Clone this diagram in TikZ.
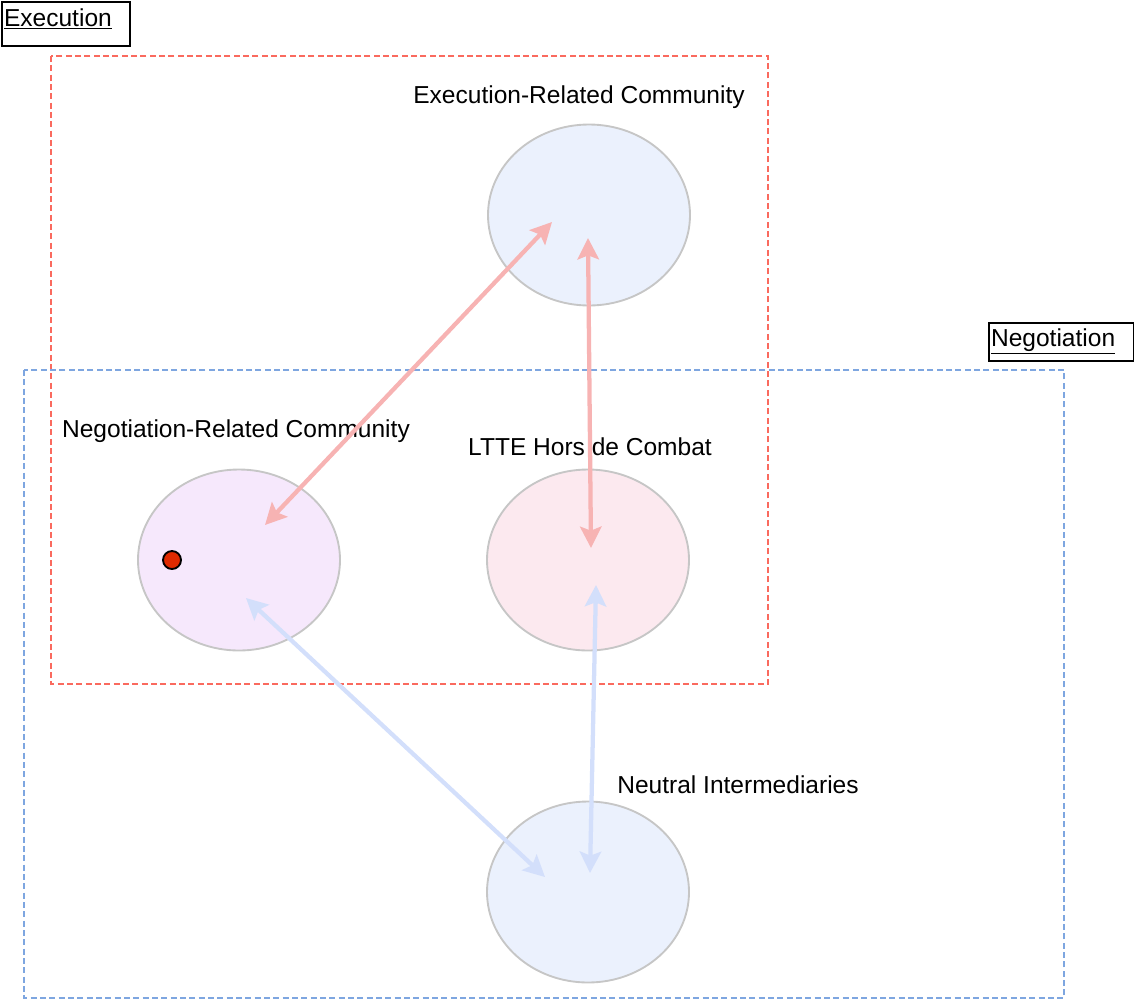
\documentclass[tikz,border=0pt]{standalone}
\usepackage{fontspec}
\setmainfont{Liberation Sans}
\usepackage{xcolor}
\usepackage{tikz}
\usetikzlibrary{shapes}
\usetikzlibrary{arrows.meta}
\definecolor{ringgray}{HTML}{C6C6C6}
\definecolor{execblue}{HTML}{EBF1FD}
\definecolor{negpurple}{HTML}{F6E8FC}
\definecolor{lttepink}{HTML}{FCE9EF}
\definecolor{regionred}{HTML}{FA6A5E}
\definecolor{regionblue}{HTML}{7EA6E0}
\definecolor{linkred}{HTML}{F7B3B3}
\definecolor{linkblue}{HTML}{D3DFFB}
\definecolor{dotred}{HTML}{E02A00}
\tikzset{
	community/.style={ellipse,draw=ringgray,line width=1.4pt,minimum width=151.5pt,minimum height=135.75pt},
	title/.style={anchor=base,inner sep=0pt,font=\fontsize{18.4}{21}\selectfont},
	label box/.style={draw,line width=1.6pt,anchor=north west,align=left,inner sep=1.5pt,font=\fontsize{18.4}{21}\selectfont},
	red region/.style={draw=regionred,line width=2pt,dash pattern=on 4.5pt off 2.5pt},
	blue region/.style={draw=regionblue,line width=2pt,dash pattern=on 4.5pt off 2.5pt},
	link tip/.style={{Stealth[length=16pt,width=16pt,inset=3pt]}-{Stealth[length=16pt,width=16pt,inset=3pt]}},
	red link/.style={draw=linkred,line width=3.2pt,link tip},
	blue link/.style={draw=linkblue,line width=3.2pt,link tip}
}

\begin{document}
\begin{tikzpicture}[x=0.75pt,y=-0.75pt]
      \useasboundingbox (0,0) rectangle (1134,1000);

      % regions
      \draw[red region] (51,56) rectangle (768,684);
      \draw[blue region] (24,370) rectangle (1064,998);

      \node[label box,text width=93pt,text height=16.5pt,text depth=13.5pt] (execlabel) at (1,1) {\underline{Execution}};
      \node[label box,text width=105.75pt,text height=15.75pt,text depth=9.75pt] (neglabel) at (988,322) {\underline{Negotiation}};

      % communities
      \node[community,fill=execblue] (exec) at (589,215) {};
      \node[community,fill=negpurple] (neg) at (239,560) {};
      \node[community,fill=lttepink] (ltte) at (588,560) {};
      \node[community,fill=execblue] (neutral) at (588,892) {};

      \node[title] (exectitle) at (579,103) {Execution-Related Community};
      \node[title] (negtitle) at (236,437) {Negotiation-Related Community};
      \node[title] (lttetitle) at (590,455) {LTTE Hors de Combat};
      \node[title] (neutraltitle) at (738,793) {Neutral Intermediaries};

      \node[circle,draw=black,line width=1.4pt,fill=dotred,minimum size=13.5pt,inner sep=0pt] (dot) at (172,560) {};

      % links
      \draw[red link] ([shift={(26,-35)}]neg.center) -- ([shift={(-37,7)}]exec.center);
      \draw[red link] ([shift={(-1,23)}]exec.center) -- ([shift={(3,-12)}]ltte.center);
      \draw[blue link] ([shift={(7,38)}]neg.center) -- ([shift={(-43,-15)}]neutral.center);
      \draw[blue link] ([shift={(8,25)}]ltte.center) -- ([shift={(2,-19)}]neutral.center);
    \end{tikzpicture}
\end{document}
